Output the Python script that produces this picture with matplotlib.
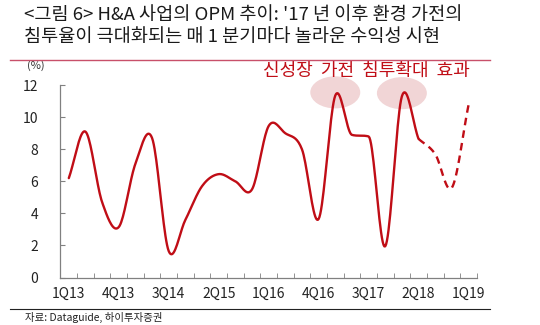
import numpy as np
import matplotlib
matplotlib.use("Agg")
import matplotlib.pyplot as plt
from matplotlib.patches import Ellipse
from matplotlib.lines import Line2D

plt.rcParams['font.family'] = ['Noto Sans CJK KR', 'DejaVu Sans']

quarters = ['1Q13', '2Q13', '3Q13', '4Q13', '1Q14', '2Q14', '3Q14', '4Q14',
            '1Q15', '2Q15', '3Q15', '4Q15', '1Q16', '2Q16', '3Q16', '4Q16',
            '1Q17', '2Q17', '3Q17', '4Q17', '1Q18', '2Q18', '3Q18', '4Q18', '1Q19']
# OPM (%) actual, 1Q13 ~ 2Q18
opm_actual = [6.2, 9.1, 4.7, 3.15, 7.1, 8.7, 1.65, 3.6, 5.7, 6.45, 6.0, 5.5,
              9.45, 9.0, 8.0, 3.65, 11.35, 8.9, 8.8, 1.95, 11.3, 8.65]
# OPM (%) estimate, 2Q18 ~ 1Q19
opm_est = [8.65, 7.7, 5.6, 10.75]
peak_labels = ['1Q17', '1Q18']


def smooth(xs, ys, n=20):
    # catmull-rom style hermite; on monotone stretches the tangent is capped
    # so that near-flat parts do not wobble
    xs = np.asarray(xs, float)
    ys = np.asarray(ys, float)
    d = np.diff(ys)
    m = np.zeros_like(ys)
    m[0], m[-1] = d[0], d[-1]
    for i in range(1, len(ys) - 1):
        m[i] = (d[i - 1] + d[i]) / 2
        if d[i - 1] * d[i] > 0:
            lim = 3 * min(abs(d[i - 1]), abs(d[i]))
            m[i] = np.sign(m[i]) * min(abs(m[i]), lim)
    outx, outy = [], []
    for i in range(len(xs) - 1):
        t = np.linspace(0, 1, n, endpoint=False)
        h00 = 2 * t**3 - 3 * t**2 + 1
        h10 = t**3 - 2 * t**2 + t
        h01 = -2 * t**3 + 3 * t**2
        h11 = t**3 - t**2
        outx.extend(xs[i] + t * (xs[i + 1] - xs[i]))
        outy.extend(h00 * ys[i] + h10 * m[i] + h01 * ys[i + 1] + h11 * m[i + 1])
    outx.append(xs[-1])
    outy.append(ys[-1])
    return np.array(outx), np.array(outy)


fig = plt.figure(figsize=(5.4, 3.25), dpi=100)
ax = fig.add_axes([0.112, 0.146, 0.771, 0.592])

red = '#c00d16'
x_act = np.arange(len(opm_actual))
x_est = np.arange(len(opm_actual) - 1, len(quarters))

sx, sy = smooth(x_act, opm_actual)
ax.plot(sx, sy, color=red, lw=1.7, zorder=3, solid_capstyle='round')
ex, ey = smooth(x_est, opm_est)
ax.plot(ex, ey, color=red, lw=1.7, ls=(0, (3.2, 2.2)), zorder=3)

# highlight the two peaks
for q in peak_labels:
    i = quarters.index(q)
    ax.add_patch(Ellipse((i, opm_actual[i] + 0.2), 3.0, 2.0, color='#f1d5d6',
                         zorder=1, clip_on=False, lw=0))

ax.text(17.9, 12.9, '신성장  가전  침투확대  효과', color=red, fontsize=13,
        ha='center', va='center', clip_on=False)

ax.set_xlim(-0.5, len(quarters) - 0.5)
ax.set_ylim(0, 12)
ax.set_yticks(range(0, 13, 2))
ax.set_xticks(range(0, len(quarters), 3))
ax.set_xticklabels(quarters[::3])
ax.set_xticks(np.arange(-0.5, len(quarters), 1), minor=True)
ax.tick_params(axis='x', which='major', length=0, pad=7, labelsize=10, colors='#222222')
ax.tick_params(axis='x', which='minor', direction='in', length=3.5, color='#808080')
ax.tick_params(axis='y', direction='in', length=3.5, color='#808080', pad=16,
               labelsize=10, labelcolor='#222222')
for s in ['top', 'right']:
    ax.spines[s].set_visible(False)
for s in ['left', 'bottom']:
    ax.spines[s].set_color('#808080')
    ax.spines[s].set_linewidth(0.9)
ax.text(-0.08, 1.1, '(%)', transform=ax.transAxes, fontsize=8, color='#333333',
        va='center')

fig.text(0.044, 0.953, "<그림 6> H&A 사업의 OPM 추이: '17 년 이후 환경 가전의",
         fontsize=13.4, color='#1a1a1a', va='center')
fig.text(0.044, 0.885, '침투율이 극대화되는 매 1 분기마다 놀라운 수익성 시현',
         fontsize=13.4, color='#1a1a1a', va='center')
fig.add_artist(Line2D([0.019, 0.907], [0.815, 0.815], color='#c8506a', lw=1.0))
fig.add_artist(Line2D([0.019, 0.907], [0.049, 0.049], color='#222222', lw=0.8))
fig.text(0.046, 0.022, '자료: Dataguide, 하이투자증권', fontsize=7.5, color='#222222',
         va='center')

fig.savefig('out.png', dpi=100)
